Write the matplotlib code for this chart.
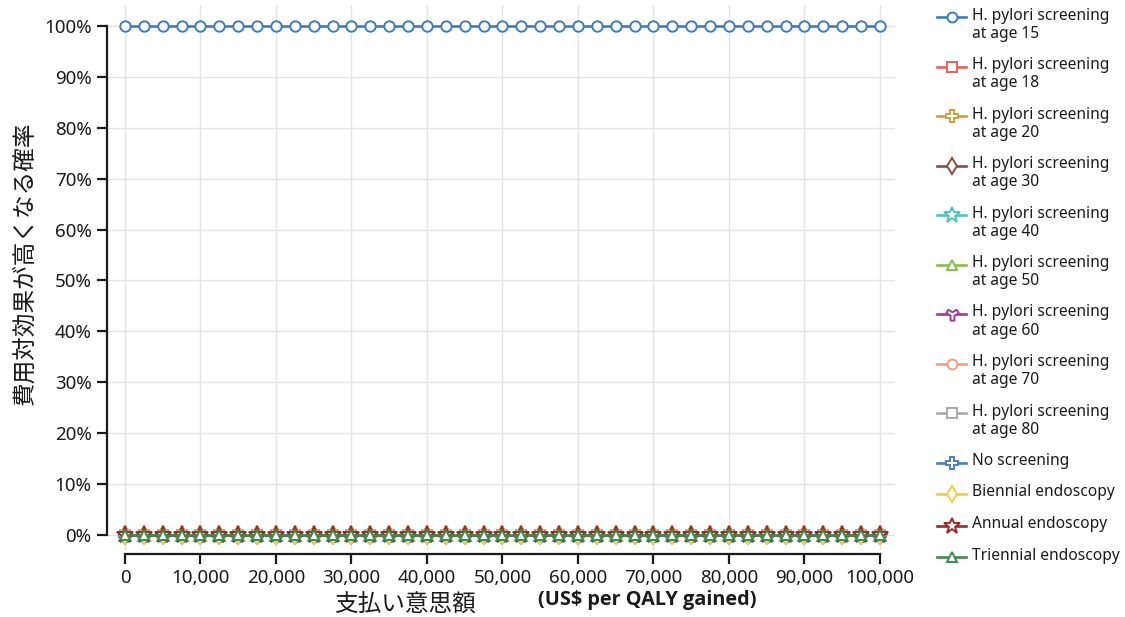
import numpy as np
import matplotlib
matplotlib.use("Agg")
import matplotlib.pyplot as plt
from matplotlib.path import Path
from matplotlib.lines import Line2D

plt.rcParams['font.family'] = ['Noto Sans', 'Noto Sans CJK JP', 'DejaVu Sans']

# willingness to pay (US$ per QALY gained), every 2,500
wtp = list(range(0, 100001, 2500))

labels = ['H. pylori screening\nat age 15', 'H. pylori screening\nat age 18',
          'H. pylori screening\nat age 20', 'H. pylori screening\nat age 30',
          'H. pylori screening\nat age 40', 'H. pylori screening\nat age 50',
          'H. pylori screening\nat age 60', 'H. pylori screening\nat age 70',
          'H. pylori screening\nat age 80', 'No screening',
          'Biennial endoscopy', 'Annual endoscopy', 'Triennial endoscopy']

# probability of being cost-effective (%) - flat in the picture
prob_age15 = [100] * len(wtp)
prob_other = [0] * len(wtp)
probs = [prob_age15] + [prob_other] * 12

colors = ['#3b7dbf', '#e8615b', '#c9a03b', '#8c4a3c', '#4ec5bd', '#86c04a',
          '#a23a98', '#f1a07f', '#a9a9a9', '#4a7fb8', '#f2cf3f', '#a3262c',
          '#3b8c4c']


def wye_marker():
    # d3-style "wye" symbol
    h, L = 0.32, 1.0
    verts = []
    for a in [-90, 30, 150]:
        r = np.radians(a)
        d = np.array([np.cos(r), np.sin(r)])
        p = np.array([-d[1], d[0]])
        verts.append(L * d - h * p)
        verts.append(L * d + h * p)
        r2 = np.radians(a + 60)
        verts.append(2 * h / np.sqrt(3) * np.array([np.cos(r2), np.sin(r2)]))
    verts.append(verts[0])
    return Path(verts, closed=True)


markers = ['o', 's', 'P', 'd', '*', '^', wye_marker(), 'o', 's', 'P', 'd', '*', '^']
msizes = [7.5, 7, 8.5, 9, 12.5, 8, 9.5, 7.5, 7, 8.5, 9, 12.5, 7.5]

fig = plt.figure(figsize=(11.25, 6.17), dpi=100)
W, H = 1125, 617
ax = fig.add_axes([107 / W, 1 - 550 / H, (895 - 107) / W, (550 - 5) / H])

for y, c, m, ms in zip(probs, colors, markers, msizes):
    ax.plot(wtp, y, color=c, lw=1.9, marker=m, ms=ms, mfc='white', mec=c,
            mew=1.4, clip_on=False)

ax.set_xlim(-2384, 101987)
ax.set_ylim(-2.95, 104.1)
ax.set_xticks(range(0, 100001, 10000))
ax.set_xticklabels([f'{v:,}' for v in range(0, 100001, 10000)])
ax.set_yticks(range(0, 101, 10))
ax.set_yticklabels([f'{v}%' for v in range(0, 101, 10)])
ax.grid(True, color='#e3e3e3', lw=1)
ax.set_axisbelow(True)

for s in ['top', 'right']:
    ax.spines[s].set_visible(False)
ax.spines['left'].set_bounds(0, 100)
ax.spines['bottom'].set_bounds(0, 100000)
ax.spines['bottom'].set_position(('outward', 3))
for s in ['left', 'bottom']:
    ax.spines[s].set_color('#1a1a1a')
    ax.spines[s].set_linewidth(1.6)
ax.tick_params(axis='both', length=7, width=1.6, color='#1a1a1a',
               labelsize=13.5, labelcolor='#1a1a1a', pad=4)

fig.text(25 / W, 1 - 263 / H, '費用対効果が高くなる確率', rotation=90,
         ha='center', va='center', fontsize=17, color='#1a1a1a',
         family=['Noto Sans CJK JP', 'DejaVu Sans'])
fig.text(405 / W, 1 - 605 / H, '支払い意思額', ha='center', va='center',
         fontsize=17, color='#1a1a1a', family=['Noto Sans CJK JP', 'DejaVu Sans'])
fig.text(647 / W, 1 - 600 / H, '(US$ per QALY gained)', ha='center',
         va='center', fontsize=14.3, fontweight='bold', color='#1a1a1a',
         family=['Open Sans', 'DejaVu Sans'])

# legend drawn by hand so the marker sits on the first text line
ly = 17
for lab, c, m, ms in zip(labels, colors, markers, msizes):
    fig.lines.append(Line2D([937 / W, 966 / W], [1 - ly / H] * 2, color=c,
                            lw=1.9, transform=fig.transFigure))
    fig.lines.append(Line2D([951.5 / W], [1 - ly / H], marker=m, ms=ms * 0.95,
                            mfc='white', mec=c, mew=1.4,
                            transform=fig.transFigure))
    fig.text(972 / W, 1 - (ly - 9.5) / H, lab, ha='left', va='top', fontsize=11.2,
             color='#1a1a1a', linespacing=1.18)
    ly += 18 * lab.count('\n') + 31.5

fig.savefig('out.png', dpi=100)
